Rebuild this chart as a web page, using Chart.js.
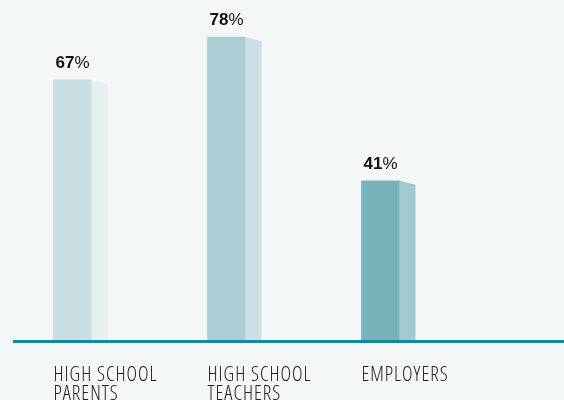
<!DOCTYPE html>
<html>
<head>
<meta charset="utf-8">
<script src="https://cdn.jsdelivr.net/npm/chart.js@4/dist/chart.umd.min.js"></script>
<style>
  html, body { margin: 0; padding: 0; background: #f3f7f8; }
  #wrap { width: 564px; height: 400px; position: relative; }
</style>
</head>
<body>
<div id="wrap"><canvas id="c" width="564" height="400"></canvas></div>
<script>
// ---- data ----
const categories = [["HIGH SCHOOL", "PARENTS"], ["HIGH SCHOOL", "TEACHERS"], ["EMPLOYERS"]];
const values = [67, 78, 41];
const valueSuffix = "%";

// ---- styles ----
const frontColors = ["#c9dee3", "#a9cdd3", "#78b3ba"];
const sideColors = ["#e7f0f0", "#cbe0e5", "#a1c9ce"];
const axisColor = "#13899a";

const sidePlugin = {
  id: "sideFaces",
  beforeDraw(chart) {
    chart.ctx.letterSpacing = "1px";
  },
  afterDatasetsDraw(chart) {
    const ctx = chart.ctx;
    ctx.letterSpacing = "0px";
    const meta = chart.getDatasetMeta(0);
    const depth = 16, drop = 4;
    meta.data.forEach((bar, i) => {
      const p = bar.getProps(["x", "y", "base", "width"], true);
      const r = p.x + p.width / 2;
      ctx.save();
      ctx.fillStyle = sideColors[i];
      ctx.beginPath();
      ctx.moveTo(r, p.y);
      ctx.lineTo(r + depth, p.y + drop);
      ctx.lineTo(r + depth, p.base);
      ctx.lineTo(r, p.base);
      ctx.closePath();
      ctx.fill();
      ctx.restore();
    });
    // baseline
    const yb = chart.scales.y.getPixelForValue(0);
    ctx.save();
    ctx.fillStyle = axisColor;
    ctx.fillRect(13, yb, chart.width - 13, 3);
    ctx.restore();
    // value labels
    meta.data.forEach((bar, i) => {
      const p = bar.getProps(["x", "y"], true);
      const num = String(values[i]);
      ctx.save();
      ctx.textBaseline = "alphabetic";
      ctx.textAlign = "left";
      const fb = "bold 17px 'Liberation Sans', Arial, sans-serif";
      const fn = "normal 17px 'Liberation Sans', Arial, sans-serif";
      ctx.font = fb;
      const w1 = ctx.measureText(num).width;
      ctx.font = fn;
      const w2 = ctx.measureText(valueSuffix).width;
      const x0 = p.x - (w1 + w2) / 2;
      const yy = p.y - 12;
      ctx.fillStyle = "#111111";
      ctx.font = fb;
      ctx.fillText(num, x0, yy);
      ctx.font = fn;
      ctx.fillText(valueSuffix, x0 + w1, yy);
      ctx.restore();
    });
  }
};

new Chart(document.getElementById("c"), {
  type: "bar",
  data: {
    labels: categories,
    datasets: [{
      data: values,
      backgroundColor: frontColors,
      borderWidth: 0,
      barThickness: 38,
      clip: false
    }]
  },
  options: {
    responsive: false,
    animation: false,
    devicePixelRatio: 1,
    layout: { padding: { left: 72.5, right: 183.5, top: 10, bottom: 0 } },
    plugins: { legend: { display: false }, tooltip: { enabled: false } },
    scales: {
      x: {
        type: "category",
        offset: false,
        grid: { display: false },
        border: { display: false },
        afterFit(scale) { scale.height = 60; },
        ticks: {
          align: "start",
          labelOffset: -19,
          padding: 17.5,
          color: "#222222",
          maxRotation: 0,
          autoSkip: false,
          font: { family: "'Open Sans', sans-serif", weight: "condensed 350", size: 20, lineHeight: 0.97 }
        }
      },
      y: {
        display: false,
        min: 0,
        max: 85
      }
    }
  },
  plugins: [sidePlugin]
});
</script>
</body>
</html>
